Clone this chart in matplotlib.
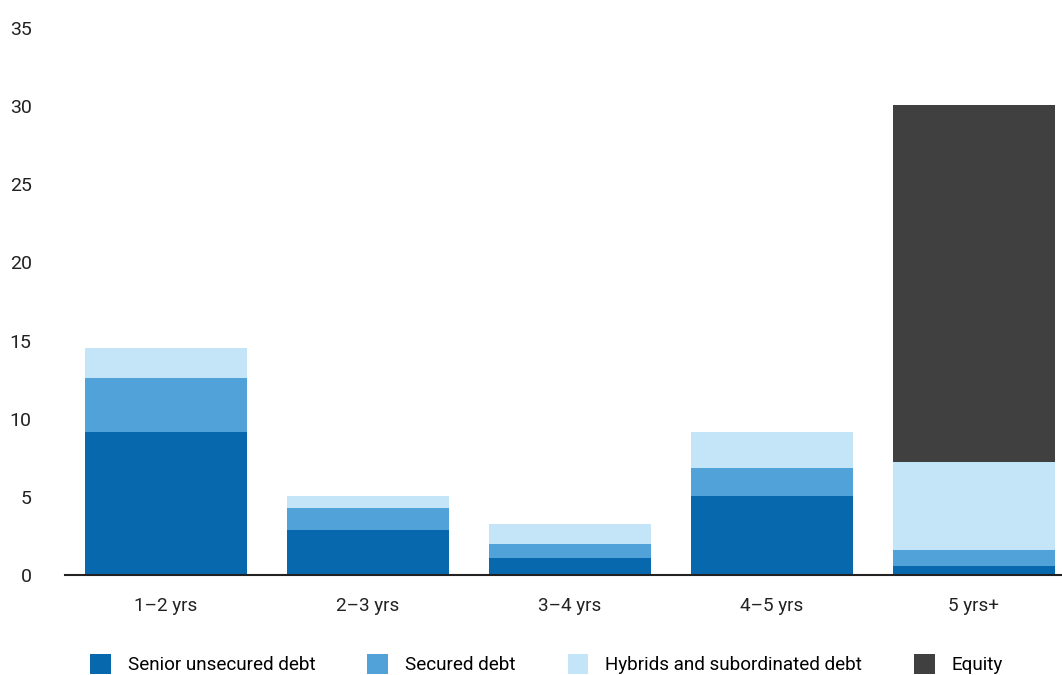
import numpy as np
import matplotlib.pyplot as plt

plt.rcParams['font.family'] = ['Liberation Sans Narrow', 'Roboto', 'DejaVu Sans']

# data
categories = ['1–2 yrs', '2–3 yrs', '3–4 yrs', '4–5 yrs', '5 yrs+']
senior = [9.15, 2.9, 1.1, 5.05, 0.55]
secured = [3.45, 1.4, 0.9, 1.8, 1.05]
hybrids = [1.95, 0.75, 1.28, 2.3, 5.65]
equity = [0.0, 0.0, 0.0, 0.0, 22.85]

series = [
    ('Senior unsecured debt', senior, '#0868AE'),
    ('Secured debt', secured, '#51A2D8'),
    ('Hybrids and subordinated debt', hybrids, '#C4E5F7'),
    ('Equity', equity, '#404040'),
]

fig = plt.figure(figsize=(10.62, 6.75), dpi=100)
ax = fig.add_axes([65 / 1062, 1 - 575 / 675, 997 / 1062, 547 / 675])

x = np.arange(len(categories))
bottom = np.zeros(len(categories))
for name, vals, col in series:
    vals = np.array(vals)
    ax.bar(x, vals, width=0.8, bottom=bottom, color=col, label=name, linewidth=0)
    bottom += vals

ax.set_xlim(-0.5, 4.436)
ax.set_ylim(0, 35)
ax.set_yticks(np.arange(0, 36, 5))
ax.set_xticks(x)
ax.set_xticklabels(categories)

for s in ['top', 'right', 'left']:
    ax.spines[s].set_visible(False)
ax.spines['bottom'].set_color('#222222')
ax.spines['bottom'].set_linewidth(1.5)

ax.tick_params(axis='y', length=0, pad=24, labelsize=14, colors='#222222')
ax.tick_params(axis='x', length=0, pad=16, labelsize=13.6, colors='#222222')
for t in ax.get_yticklabels():
    t.set_horizontalalignment('right')

fig.legend(loc='center left', bbox_to_anchor=(90 / 1062, 1 - 664 / 675), ncol=4,
           frameon=False, fontsize=13.6, handlelength=1.1, handleheight=1.25,
           handletextpad=0.9, columnspacing=2.75, borderaxespad=0, borderpad=0)

fig.savefig('out.png', dpi=100)
